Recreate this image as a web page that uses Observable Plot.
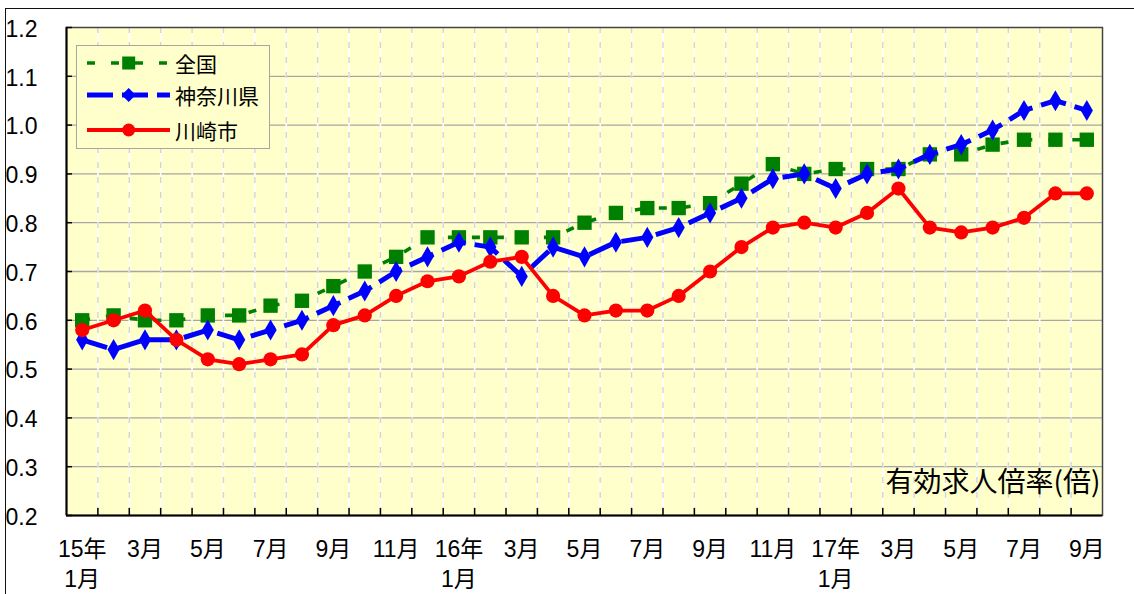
<!DOCTYPE html>
<html>
<head>
<meta charset="utf-8">
<script src="https://cdn.jsdelivr.net/npm/d3@7"></script>
<script src="https://cdn.jsdelivr.net/npm/@observablehq/plot@0.6"></script>
<style>
  html, body { margin: 0; padding: 0; background: #fff; }
  #wrap { position: relative; width: 1134px; height: 594px; overflow: hidden; background: #fff; }
  #outer { position: absolute; left: 5px; top: 8px; width: 1200px; height: 700px;
           border-left: 1.6px solid #111; border-top: 1.6px solid #111; }
  #chart { position: absolute; left: 0; top: 0; }
  .legend { position: absolute; left: 76px; top: 45px; width: 194px; height: 104px;
            box-sizing: border-box; background: #FFFFCC; border: 1.5px solid #a6a6a6; }
  .legend .row { position: absolute; left: 0; height: 30px; width: 194px; }
  .legend svg { position: absolute; left: 0; top: 0; }
  .legend span { position: absolute; left: 98px; top: 0; line-height: 30px;
                 font-family: "Noto Sans CJK JP", sans-serif; font-size: 21px; color: #000; }
</style>
</head>
<body>
<div id="wrap"><div id="outer"></div></div>
<script>
// ---- data ----
const months = [
  "15年1月","15年2月","15年3月","15年4月","15年5月","15年6月","15年7月","15年8月","15年9月","15年10月","15年11月","15年12月",
  "16年1月","16年2月","16年3月","16年4月","16年5月","16年6月","16年7月","16年8月","16年9月","16年10月","16年11月","16年12月",
  "17年1月","17年2月","17年3月","17年4月","17年5月","17年6月","17年7月","17年8月","17年9月"
];
const tickLabels = ["15年\n1月","3月","5月","7月","9月","11月","16年\n1月","3月","5月","7月","9月","11月","17年\n1月","3月","5月","7月","9月"];
const seriesNames = ["全国", "神奈川県", "川崎市"];
const zenkoku = [0.60,0.61,0.60,0.60,0.61,0.61,0.63,0.64,0.67,0.70,0.73,0.77,
                 0.77,0.77,0.77,0.77,0.80,0.82,0.83,0.83,0.84,0.88,0.92,0.90,
                 0.91,0.91,0.91,0.94,0.94,0.96,0.97,0.97,0.97];
const kanagawa = [0.56,0.54,0.56,0.56,0.58,0.56,0.58,0.60,0.63,0.66,0.70,0.73,
                  0.76,0.75,0.69,0.75,0.73,0.76,0.77,0.79,0.82,0.85,0.89,0.90,
                  0.87,0.90,0.91,0.94,0.96,0.99,1.03,1.05,1.03];
const kawasaki = [0.58,0.60,0.62,0.56,0.52,0.51,0.52,0.53,0.59,0.61,0.65,0.68,
                  0.69,0.72,0.73,0.65,0.61,0.62,0.62,0.65,0.70,0.75,0.79,0.80,
                  0.79,0.82,0.87,0.79,0.78,0.79,0.81,0.86,0.86];
const yTicks = [0.2,0.3,0.4,0.5,0.6,0.7,0.8,0.9,1.0,1.1,1.2];
const unitLabel = "有効求人倍率(倍)";

// ---- styles ----
const styles = [
  {stroke: "#008000", width: 3.6, dash: "8,16", symbol: "square", r: 8.1},
  {stroke: "#0000FF", width: 5, dash: "26,9", symbol: "diamond", r: 6.4},
  {stroke: "#FF0000", width: 3.8, dash: null, symbol: "circle", r: 7.1}
];
const values = [zenkoku, kanagawa, kawasaki];
const series = seriesNames.map((name, k) => ({name, ...styles[k],
  data: values[k].map((v, i) => ({i, month: months[i], v}))}));

const W = 1134, H = 594;
const mL = 66, mT = 27, mR = 32, mB = 79;
const xDomain = [-0.5, months.length - 0.5];
const yDomain = [0.2, 1.2];
const plotH = H - mT - mB;
const bounds = d3.range(1, months.length).map(i => i - 0.5);
const tickIdx = tickLabels.map((t, j) => ({i: j * 2, t}));
const latin = "'Liberation Sans Narrow', 'Arial Narrow', 'Liberation Sans', 'Noto Sans CJK JP', sans-serif";

const marks = [
  Plot.frame({fill: "#FFFFCC", stroke: null}),
  Plot.ruleY(yTicks.slice(1, -1), {stroke: "#a6a6a6", strokeWidth: 1.3}),
  Plot.ruleX(bounds, {stroke: "#ffffff", strokeWidth: 1.6}),
  Plot.ruleX(bounds, {stroke: "#d4d4d4", strokeWidth: 1.4, strokeDasharray: "6,9"}),
];
for (const s of series) {
  marks.push(Plot.line(s.data, {x: "i", y: "v", stroke: s.stroke, strokeWidth: s.width,
    strokeDasharray: s.dash, strokeLinejoin: "round", strokeLinecap: "butt"}));
  marks.push(Plot.dot(s.data, {x: "i", y: "v", symbol: s.symbol, r: s.r, fill: s.stroke, stroke: null}));
}
marks.push(
  Plot.frame({stroke: "#444", strokeWidth: 1.5}),
  Plot.ruleX([xDomain[0]], {stroke: "#000", strokeWidth: 2}),
  Plot.ruleY([yDomain[0]], {stroke: "#000", strokeWidth: 2}),
  Plot.ruleX(bounds, {y1: yDomain[0], y2: yDomain[0] + (yDomain[1] - yDomain[0]) * 7 / plotH, stroke: "#000", strokeWidth: 1.5}),
  Plot.ruleY(yTicks, {x1: xDomain[0], x2: xDomain[0] + (xDomain[1] - xDomain[0]) * 6 / (W - mL - mR), stroke: "#000", strokeWidth: 1.5}),
  Plot.text(yTicks, {y: d => d, text: d => d.toFixed(1), frameAnchor: "left", textAnchor: "end",
    dx: -29, dy: 2, fontSize: 23, fill: "#000", fontFamily: latin}),
  Plot.text(tickIdx, {x: "i", text: "t", frameAnchor: "bottom", lineAnchor: "top",
    dy: 20, lineHeight: 1.3, fontSize: 23, fill: "#000", fontFamily: latin}),
  Plot.text([unitLabel], {frameAnchor: "bottom-right", textAnchor: "end", lineAnchor: "middle",
    dx: -2, dy: -32, fontSize: 28, fill: "#000", fontFamily: "'Noto Sans CJK JP', sans-serif"})
);

const chart = Plot.plot({
  width: W, height: H,
  marginLeft: mL, marginTop: mT, marginRight: mR, marginBottom: mB,
  x: {type: "linear", domain: xDomain, axis: null},
  y: {type: "linear", domain: yDomain, axis: null},
  style: {background: "transparent", overflow: "visible"},
  marks
});
chart.id = "chart";
const wrap = document.getElementById("wrap");
wrap.appendChild(chart);

// ---- legend ----
const legend = d3.select(wrap).append("div").attr("class", "legend");
const rowCenters = [17, 49, 83.5];
series.forEach((s, k) => {
  const row = legend.append("div").attr("class", "row").style("top", (rowCenters[k] - 15) + "px");
  const svg = row.append("svg").attr("width", 96).attr("height", 30);
  svg.append("line").attr("x1", 10).attr("x2", 93).attr("y1", 15).attr("y2", 15)
    .attr("stroke", s.stroke).attr("stroke-width", s.width)
    .attr("stroke-dasharray", s.dash);
  const cx = 51.7, cy = 15;
  if (s.symbol === "square") {
    svg.append("rect").attr("x", cx - 6.5).attr("y", cy - 6.5).attr("width", 13).attr("height", 13).attr("fill", s.stroke);
  } else if (s.symbol === "diamond") {
    svg.append("path").attr("d", `M${cx},${cy - 7}L${cx + 7},${cy}L${cx},${cy + 7}L${cx - 7},${cy}Z`).attr("fill", s.stroke);
  } else {
    svg.append("circle").attr("cx", cx).attr("cy", cy).attr("r", 6.5).attr("fill", s.stroke);
  }
  row.append("span").text(s.name);
});
</script>
</body>
</html>
